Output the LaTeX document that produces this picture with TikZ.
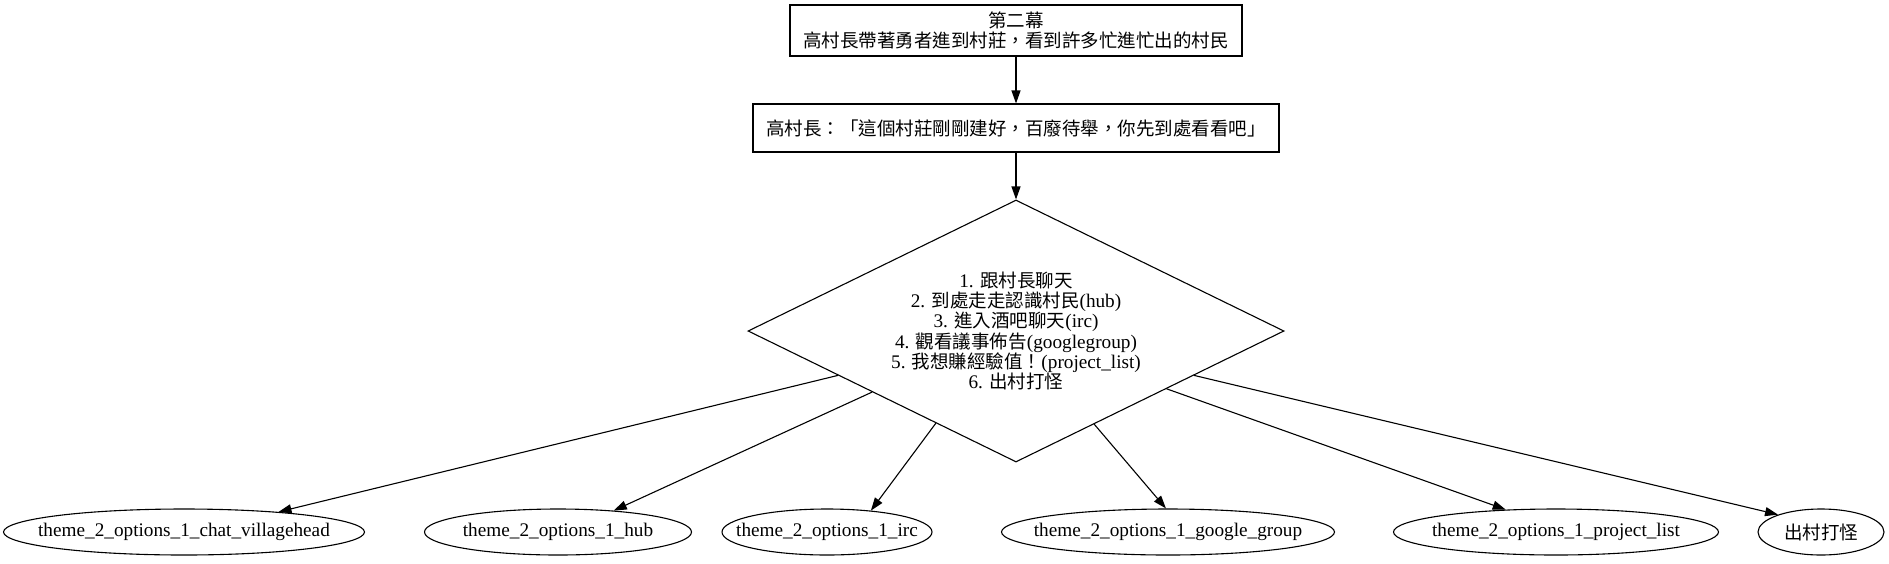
\documentclass[tikz,border=0pt]{standalone}
\usepackage{fontspec}
\setmainfont[Scale=1.04]{Liberation Serif}
\newfontfamily\cjk{Noto Sans CJK TC}
\usetikzlibrary{shapes.geometric, arrows.meta}
\def \centerx {1016}
\def \optiony {532}
\def \dotfont {\fontsize{18.5}{20.2}\selectfont}
\newcommand{\zh}[1]{{\cjk #1}}
\tikzstyle{scene}=[rectangle, draw, align=center, inner sep=0pt, font=\dotfont\cjk]
\tikzstyle{menu}=[diamond, draw, align=center, inner sep=0pt, aspect=2.046, font=\dotfont]
\tikzstyle{option}=[ellipse, draw, inner xsep=-22pt, inner ysep=0pt, minimum height=46pt, font=\dotfont]

\begin{document}
\begin{tikzpicture}[-{Triangle[length=13pt, width=9pt]}, x=1pt, y=-1pt, line width=1.1pt]

\useasboundingbox (0, 0) rectangle (1889, 563);

\node[scene, minimum width=452pt, minimum height=51pt] (act) at (\centerx, 30.5) {第二幕\\高村長帶著勇者進到村莊，看到許多忙進忙出的村民};
\node[scene, minimum width=526pt, minimum height=48pt] (head) at (\centerx, 128) {高村長：「這個村莊剛剛建好，百廢待舉，你先到處看看吧」};

\node[menu, minimum width=536pt, minimum height=262pt] (menu) at (\centerx, 331) {1. \zh{跟村長聊天}\\2. \zh{到處走走認識村民}(hub)\\3. \zh{進入酒吧聊天}(irc)\\4. \zh{觀看議事佈告}(googlegroup)\\5. \zh{我想賺經驗值！}(project\_list)\\6. \zh{出村打怪}};

\foreach \n/\x/\w/\t in {1/184/361/theme\_2\_options\_1\_chat\_villagehead, 2/558/267/theme\_2\_options\_1\_hub, 3/827/210/theme\_2\_options\_1\_irc, 4/1168/333/theme\_2\_options\_1\_google\_group, 5/1556/325/theme\_2\_options\_1\_project\_list, 6/1821/126/\zh{出村打怪}}
    \node[option, minimum width=\w pt] (O\n) at (\x, \optiony) {\t};

\draw (act) -- (head);
\draw (head) -- (menu);
% leave the diamond and enter each option where the reference does
\foreach \n/\s/\e in {1/194.3/12, 2/203.9/21, 3/229.7/26.6, 4/310/95, 5/339.6/156.4, 6/346.9/158.7}
    \draw (menu.\s) -- (O\n.\e);

\end{tikzpicture}
\end{document}
